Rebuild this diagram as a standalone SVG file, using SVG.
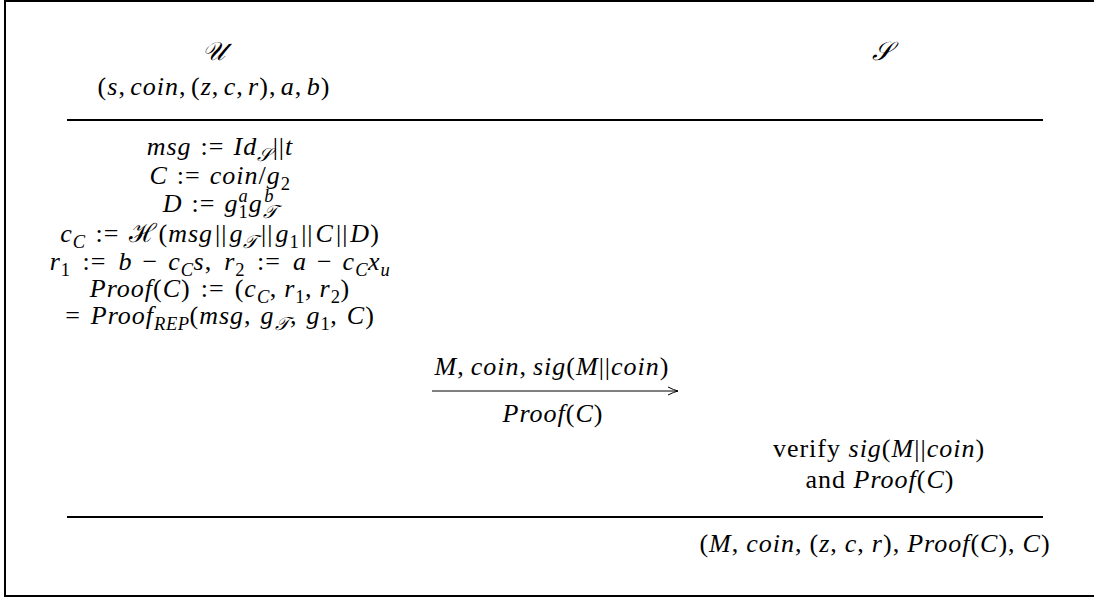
<svg xmlns="http://www.w3.org/2000/svg" width="1094" height="598" viewBox="0 0 1094 598">
<defs>
<style>
text{font-family:"Liberation Serif","DejaVu Serif",serif;font-size:26px;fill:#000;text-anchor:middle;letter-spacing:1px}
.i{font-style:italic}
.s{font-size:18.5px;letter-spacing:0.5px}
.rule{stroke:#000;stroke-width:2;fill:none}
</style>
<marker id="ah" viewBox="0 0 10 10" refX="10" refY="5" markerWidth="10" markerHeight="10" markerUnits="userSpaceOnUse" orient="auto">
<path d="M0,1 Q6,4 10,5 Q6,6 0,9" fill="none" stroke="#000" stroke-width="1"/>
</marker>
</defs>
<rect x="5" y="1" width="1094" height="595" fill="#fff" stroke="#000" stroke-width="2"/>
<g id="party-U">
<text x="214" y="60"><tspan class="i">𝒰</tspan></text>
<text x="214" y="95">(<tspan class="i">s</tspan>,<tspan class="i" dx="4.4">coin</tspan>,<tspan dx="4.4">(</tspan><tspan class="i">z</tspan>,<tspan class="i" dx="4.4">c</tspan>,<tspan class="i" dx="4.4">r</tspan>),<tspan class="i" dx="4.4">a</tspan>,<tspan class="i" dx="4.4">b</tspan>)</text>
</g>
<g id="party-S">
<text x="882" y="60"><tspan class="i">𝒮</tspan></text>
</g>
<g id="rules">
<line class="rule" x1="67" y1="120" x2="1043" y2="120"/>
<line class="rule" x1="67" y1="517" x2="1043" y2="517"/>
</g>
<g id="user-computation">
<text x="220" y="155"><tspan class="i">msg</tspan><tspan dx="9">:=</tspan><tspan class="i" dx="9">Id</tspan><tspan class="s i" dy="6">𝒮</tspan><tspan dy="-6" dx="1">||</tspan><tspan class="i">t</tspan></text>
<text x="220" y="184"><tspan class="i">C</tspan><tspan dx="9">:=</tspan><tspan class="i" dx="9">coin</tspan>/<tspan class="i">g</tspan><tspan class="s" dy="6">2</tspan></text>
<text x="220" y="212"><tspan class="i">D</tspan><tspan dx="9">:=</tspan><tspan class="i" dx="9">g</tspan><tspan class="s" dy="6">1</tspan><tspan class="s i" dx="-9.75" dy="-16">a</tspan><tspan class="i" dy="10" dx="0.5">g</tspan><tspan class="s i" dy="6">𝒯</tspan><tspan class="s i" dx="-13" dy="-16">b</tspan></text>
<text x="220" y="242"><tspan class="i">c</tspan><tspan class="s i" dy="6">C</tspan><tspan dy="-6" dx="10">:=</tspan><tspan dx="10">ℋ(</tspan><tspan class="i">msg</tspan><tspan dx="2">||</tspan><tspan class="i" dx="2">g</tspan><tspan class="s i" dy="6">𝒯</tspan><tspan dy="-6" dx="3">||</tspan><tspan class="i" dx="2">g</tspan><tspan class="s" dy="6">1</tspan><tspan dy="-6" dx="2">||</tspan><tspan class="i" dx="2">C</tspan><tspan dx="2">||</tspan><tspan class="i" dx="2">D</tspan>)</text>
<text x="220" y="270"><tspan class="i">r</tspan><tspan class="s" dy="6">1</tspan><tspan dy="-6" dx="12">:=</tspan><tspan class="i" dx="12">b</tspan><tspan dx="10">−</tspan><tspan class="i" dx="10">c</tspan><tspan class="s i" dy="6">C</tspan><tspan class="i" dy="-6">s</tspan>,<tspan class="i" dx="12">r</tspan><tspan class="s" dy="6">2</tspan><tspan dy="-6" dx="12">:=</tspan><tspan class="i" dx="12">a</tspan><tspan dx="10">−</tspan><tspan class="i" dx="10">c</tspan><tspan class="s i" dy="6">C</tspan><tspan class="i" dy="-6">x</tspan><tspan class="s i" dy="6">u</tspan></text>
<text x="220" y="297"><tspan class="i">Proof</tspan>(<tspan class="i">C</tspan>)<tspan dx="10">:=</tspan><tspan dx="10">(</tspan><tspan class="i">c</tspan><tspan class="s i" dy="6">C</tspan><tspan dy="-6">,</tspan><tspan class="i" dx="7">r</tspan><tspan class="s" dy="6">1</tspan><tspan dy="-6">,</tspan><tspan class="i" dx="7">r</tspan><tspan class="s" dy="6">2</tspan><tspan dy="-6">)</tspan></text>
<text x="220" y="324">=<tspan class="i" dx="10">Proof</tspan><tspan class="s i" dy="6">REP</tspan><tspan dy="-6">(</tspan><tspan class="i">msg</tspan>,<tspan class="i" dx="9">g</tspan><tspan class="s i" dy="6">𝒯</tspan><tspan dy="-6" dx="1">,</tspan><tspan class="i" dx="9">g</tspan><tspan class="s" dy="6">1</tspan><tspan dy="-6">,</tspan><tspan class="i" dx="9">C</tspan>)</text>
</g>
<g id="connectors">
<line x1="432" y1="391" x2="678" y2="391" stroke="#000" stroke-width="1" marker-end="url(#ah)"/>
</g>
<g id="message">
<text x="552" y="375"><tspan class="i">M</tspan>,<tspan class="i" dx="6">coin</tspan>,<tspan class="i" dx="6">sig</tspan>(<tspan class="i">M</tspan>||<tspan class="i">coin</tspan>)</text>
<text x="553" y="422"><tspan class="i">Proof</tspan>(<tspan class="i">C</tspan>)</text>
</g>
<g id="server-verify">
<text x="879" y="457">verify <tspan class="i">sig</tspan>(<tspan class="i">M</tspan>||<tspan class="i">coin</tspan>)</text>
<text x="880" y="488">and <tspan class="i">Proof</tspan>(<tspan class="i">C</tspan>)</text>
</g>
<g id="output">
<text x="875" y="552">(<tspan class="i">M</tspan>,<tspan class="i" dx="7">coin</tspan>,<tspan dx="7">(</tspan><tspan class="i">z</tspan>,<tspan class="i" dx="7">c</tspan>,<tspan class="i" dx="7">r</tspan>),<tspan class="i" dx="7">Proof</tspan>(<tspan class="i">C</tspan>),<tspan class="i" dx="7">C</tspan>)</text>
</g>
</svg>
